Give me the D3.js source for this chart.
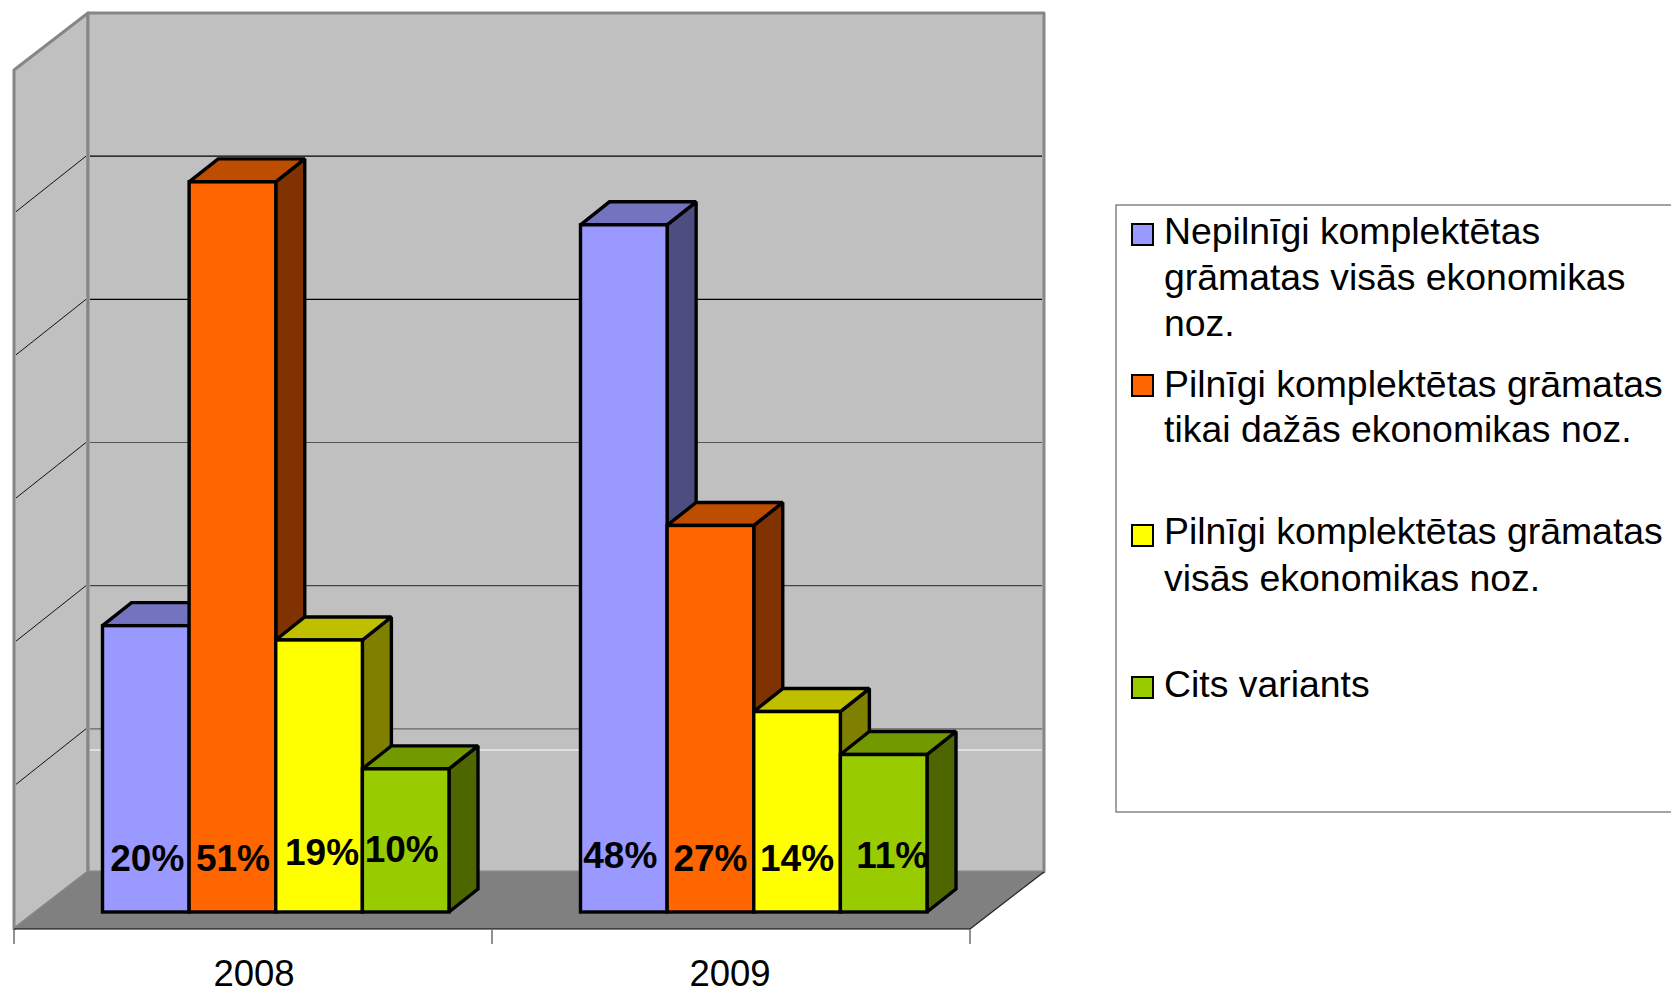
<!DOCTYPE html>
<html>
<head>
<meta charset="utf-8">
<style>
  html, body { margin: 0; padding: 0; background: #fff; overflow: hidden; }
  svg { display: block; }
  text { font-family: "Liberation Sans", Arial, sans-serif; fill: #000; }
</style>
</head>
<body>
<script src="https://cdn.jsdelivr.net/npm/d3@7"></script>
<script>
// Chart content
const years = ["2008", "2009"];
const seriesNames = ["Nepilnīgi", "Pilnīgi dažās", "Pilnīgi visās", "Cits"];
const values2008 = [20, 51, 19, 10];
const values2009 = [48, 27, 14, 11];
const gridValues = [10, 20, 30, 40, 50];
const legendLines = [
  ["Nepilnīgi komplektētas", "grāmatas visās ekonomikas", "noz."],
  ["Pilnīgi komplektētas grāmatas", "tikai dažās ekonomikas noz."],
  ["Pilnīgi komplektētas grāmatas", "visās ekonomikas noz."],
  ["Cits variants"]
];

// Colours: front, top and side face of each series
const frontColors = ["#9999ff", "#ff6600", "#ffff00", "#99cc00"];
const topColors = ["#7373bf", "#bf4d00", "#bfbf00", "#739900"];
const sideColors = ["#4d4d80", "#803300", "#808000", "#4d6600"];
const gridColors = ["#666", "#444", "#555", "#000", "#000"];

// Box geometry of the 3D plot
const W = 1671, H = 989;
const back = { left: 88, right: 1044, top: 13, bottom: 872 };
const front = { left: 14, right: 970, bottom: 929 };
const wallDy = front.bottom - back.bottom;
const barBase = 912, barDx = 29, barDy = 23;

const svg = d3.select("body").append("svg").attr("width", W).attr("height", H);

const y = d3.scaleLinear().domain([0, 60]).range([back.bottom, back.top]);
const x0 = d3.scaleBand().domain(years).range([front.left, front.right]);
const x1 = d3.scaleBand().domain(seriesNames).range([88.5, 435]);
const barY = v => y(v) - y(0) + barBase;
const poly = pts => pts.map(p => p.join(",")).join(" ");

// Walls and floor
const wallStyle = s => s.attr("stroke", "#868686").attr("stroke-width", 3).attr("stroke-linejoin", "round");
svg.append("polygon").call(wallStyle).attr("fill", "#c0c0c0")
  .attr("points", poly([[front.left, back.top + wallDy], [back.left, back.top], [back.left, back.bottom], [front.left, front.bottom]]));
svg.append("polygon").attr("fill", "#c0c0c0").call(wallStyle)
  .attr("points", poly([[back.left, back.top], [back.right, back.top], [back.right, back.bottom], [back.left, back.bottom]]));
svg.append("polygon").attr("fill", "#808080")
  .attr("points", poly([[front.left, front.bottom], [back.left, back.bottom], [back.right, back.bottom], [front.right, front.bottom]]));

// Gridlines across both walls
gridValues.forEach((v, i) => {
  svg.append("line").attr("x1", back.left + 2).attr("x2", back.right - 2)
    .attr("y1", y(v)).attr("y2", y(v))
    .attr("stroke", gridColors[i]).attr("stroke-width", 1.2);
  svg.append("line").attr("x1", back.left - 2).attr("x2", front.left + 2)
    .attr("y1", y(v)).attr("y2", y(v) + wallDy - 1.5)
    .attr("stroke", "#111").attr("stroke-width", 1);
});
// Thin light rule on the back wall
svg.append("line").attr("x1", back.left + 2).attr("x2", back.right - 2)
  .attr("y1", 750).attr("y2", 750).attr("stroke", "#fff").attr("stroke-width", 1);

// Floor edges
svg.append("line").attr("x1", front.left).attr("x2", front.right)
  .attr("y1", front.bottom).attr("y2", front.bottom).attr("stroke", "#000").attr("stroke-width", 1.2);
svg.append("line").attr("x1", front.right).attr("x2", back.right)
  .attr("y1", front.bottom).attr("y2", back.bottom).attr("stroke", "#222").attr("stroke-width", 1.2);

// Category axis: labels from the band scale, ticks on the band edges
const axis = svg.append("g").attr("transform", `translate(0,${front.bottom})`)
  .call(d3.axisBottom(x0).tickSize(0));
axis.select(".domain").remove();
axis.selectAll("text").attr("font-size", 36.5)
  .style("font-family", '"Liberation Sans", Arial, sans-serif').attr("dy", 0).attr("y", 56.5)
  .attr("dx", (d, i) => i === 0 ? 1 : -1);
const edges = [...years.map(d => x0(d)), front.right];
axis.selectAll("line.edge").data(edges).join("line").attr("class", "edge")
  .attr("x1", d => d).attr("x2", d => d).attr("y1", 0).attr("y2", 15)
  .attr("stroke", "#777").attr("stroke-width", 1.6);

// Bars, drawn left to right so each one overlaps its neighbour's side face
const barStyle = s => s.attr("stroke", "#000").attr("stroke-width", 3.4)
  .attr("stroke-linejoin", "miter").attr("stroke-miterlimit", 1.5);
const table = years.map((yr, i) => ({ yr, vals: [values2008, values2009][i] }));
table.forEach(({ yr, vals }) => {
  vals.forEach((v, i) => {
    const xa = x0(yr) + x1(seriesNames[i]);
    const xb = xa + x1.bandwidth();
    const t = barY(v);
    const g = svg.append("g");
    g.append("polygon").call(barStyle).attr("fill", sideColors[i])
      .attr("points", poly([[xb, t], [xb + barDx, t - barDy], [xb + barDx, barBase - barDy], [xb, barBase]]));
    g.append("polygon").call(barStyle).attr("fill", topColors[i])
      .attr("points", poly([[xa, t], [xa + barDx, t - barDy], [xb + barDx, t - barDy], [xb, t]]));
    g.append("rect").call(barStyle).attr("fill", frontColors[i])
      .attr("x", xa).attr("y", t).attr("width", xb - xa).attr("height", barBase - t);
  });
});

// Value labels; each sits at its own nudge from the centre of the bar
const labelNudges = [
  [[1.5, 870.5], [0.5, 870.5], [3, 864.5], [-4, 861.5]],
  [[-3.5, 867.5], [0, 870.5], [0, 870.5], [8.5, 867.5]]
];
table.forEach(({ yr, vals }, gi) => {
  vals.forEach((v, i) => {
    const cx = x0(yr) + x1(seriesNames[i]) + x1.bandwidth() / 2;
    svg.append("text").text(v + "%")
      .attr("x", cx + labelNudges[gi][i][0]).attr("y", labelNudges[gi][i][1])
      .attr("text-anchor", "middle").attr("font-size", 37).attr("font-weight", "bold");
  });
});

// Legend
svg.append("rect").attr("x", 1116).attr("y", 205).attr("width", 600).attr("height", 607)
  .attr("fill", "#fff").attr("stroke", "#666").attr("stroke-width", 1.2);
const legendBaselines = [[244, 290, 336], [397, 442], [544, 590.5], [696.5]];
const swatchTops = [224, 375, 525, 677];
legendLines.forEach((lines, i) => {
  svg.append("rect").attr("x", 1132).attr("y", swatchTops[i]).attr("width", 21).attr("height", 21)
    .attr("fill", frontColors[i]).attr("stroke", "#000").attr("stroke-width", 2);
  lines.forEach((line, j) => {
    svg.append("text").text(line).attr("x", 1164).attr("y", legendBaselines[i][j])
      .attr("font-size", 37.4);
  });
});
</script>
</body>
</html>
